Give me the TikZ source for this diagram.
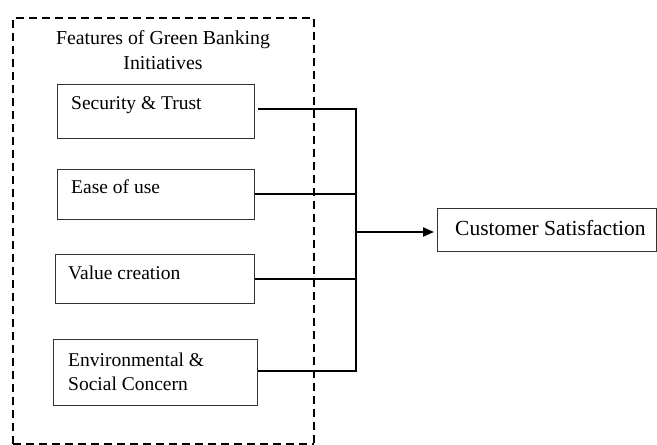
\documentclass[tikz,border=0pt]{standalone}
\usepackage{fontspec}
\setmainfont{Liberation Serif}
\usetikzlibrary{arrows.meta}
\begin{document}
\begin{tikzpicture}[x=1pt,y=-1pt,
  featbox/.style={draw=black!80,line width=1.2pt,rectangle,inner sep=0pt,anchor=north west},
  txt/.style={inner sep=0pt,anchor=base west,font=\fontsize{19.5}{24}\selectfont},
  conn/.style={draw=black,line width=1.9pt},
  group/.style={draw=black,line width=1.9pt,dash pattern=on 8pt off 5pt}]
\useasboundingbox (0,0) rectangle (657,445);
% dashed group
\draw[group] (13,444) -- (13,18) -- (314,18) -- (314,444);
\draw[group] (13,444) -- (314,444);
\node[inner sep=0pt,anchor=base,align=center,font=\fontsize{19.8}{25}\selectfont] (title) at (163,69) {Features of Green Banking\\Initiatives};
% feature boxes
\node[featbox,minimum width=197pt,minimum height=54pt] (b1) at (57,84) {};
\node[featbox,minimum width=197pt,minimum height=50pt] (b2) at (57,169) {};
\node[featbox,minimum width=199pt,minimum height=49pt] (b3) at (55,254) {};
\node[featbox,minimum width=204pt,minimum height=66pt] (b4) at (53,339) {};
\node[txt] (t1) at (71,109) {Security \& Trust};
\node[txt] (t2) at (71,193) {Ease of use};
\node[txt] (t3) at (68,279) {Value creation};
\node[txt,align=left] (t4) at (68,390) {Environmental \&\\Social Concern};
% outcome
\node[draw=black!80,line width=1.2pt,rectangle,inner sep=0pt,minimum width=219pt,minimum height=43pt,anchor=north west] (cs) at (437,208) {};
\node[inner sep=0pt,anchor=base west,font=\fontsize{21.5}{26}\selectfont] (cst) at (455,235) {Customer Satisfaction};
% connectors
\coordinate (j) at (356,232);
\draw[conn] ([xshift=3pt,yshift=3pt]b1.east) -| (j);
\draw[conn] ([yshift=1pt]b2.east) -| (j);
\draw[conn] (b3.east) -| (j);
\draw[conn] ([yshift=2pt]b4.east) -| (j);
\draw[conn,-{Triangle[length=11pt,width=9pt]}] (j) -- ([xshift=-3pt]j -| cs.west);
\end{tikzpicture}
\end{document}
